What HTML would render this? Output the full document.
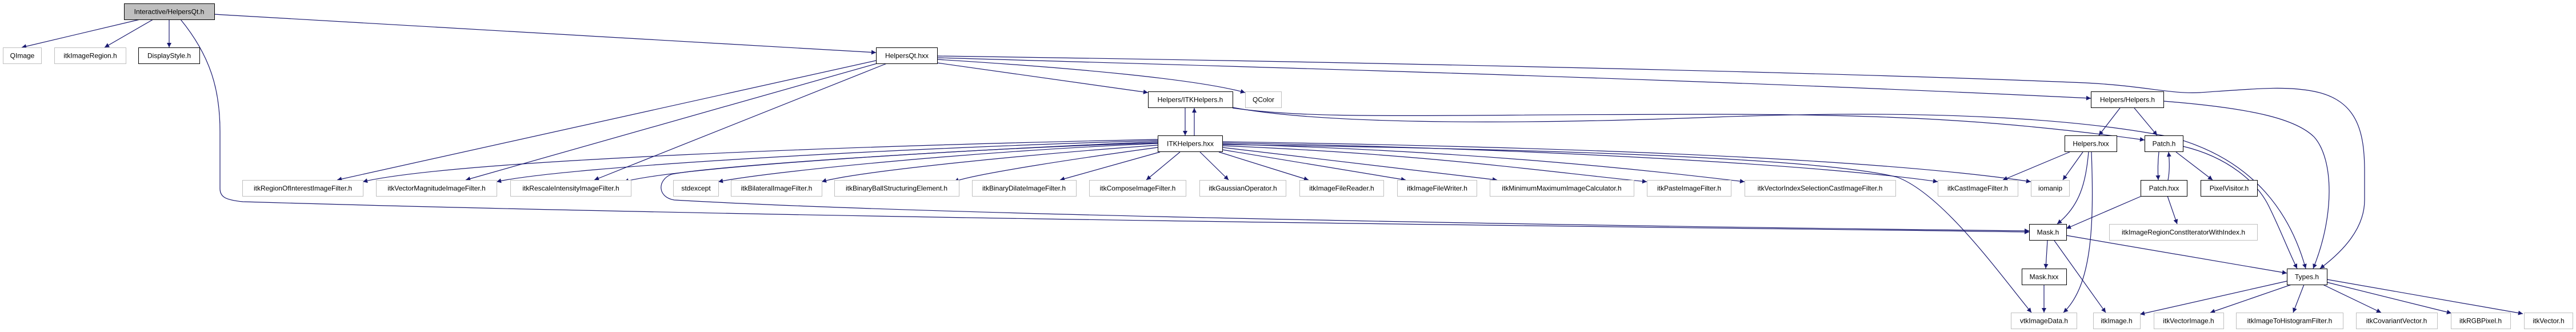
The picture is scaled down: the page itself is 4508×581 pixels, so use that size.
<!DOCTYPE html>
<html><head><meta charset="utf-8"><style>
html,body{margin:0;padding:0;background:#fff;}
svg{display:block;}
text{font-family:"Liberation Sans",sans-serif;font-size:12px;fill:#000;}
.e{fill:none;stroke:#191970;stroke-width:1.2;}
</style></head><body>
<svg width="4508" height="581" viewBox="0 0 4508 581" xmlns="http://www.w3.org/2000/svg">
<defs><marker id="a" viewBox="0 0 10 10" refX="10" refY="5" markerWidth="10" markerHeight="8" markerUnits="userSpaceOnUse" orient="auto"><path d="M0,0L10,5L0,10z" fill="#191970"/></marker></defs>
<g marker-end="url(#a)">
<!-- root -->
<path class="e" d="M245,34L38,83"/>
<path class="e" d="M268,34L183,83"/>
<path class="e" d="M296,34L296,83"/>
<path class="e" d="M375,25L1533,92"/>
<path class="e" d="M316,34C370,100 385,160 385,230L385,330C385,345 395,350 425,353C1500,385 3000,398 3551,406"/>
<!-- HelpersQt.hxx -->
<path class="e" d="M1533,106L590,315"/>
<path class="e" d="M1535,111L815,315"/>
<path class="e" d="M1552,111L1040,315"/>
<path class="e" d="M1640,110L2009,162"/>
<path class="e" d="M1640,104C1900,120 2100,140 2179,162"/>
<path class="e" d="M1640,101C2300,120 3000,140 3659,172"/>
<path class="e" d="M1640,98C2500,110 3300,130 3650,145C3750,150 3800,165 3850,162C3950,155 4000,150 4050,160C4125,175 4138,230 4138,300L4138,350C4138,400 4100,440 4060,470"/>
<!-- ITKHelpers.h -->
<path class="e" d="M2074,189L2074,237"/>
<path class="e" d="M2090,237L2090,189"/>
<path class="e" d="M2157,189C2300,210 2500,200 3000,200C3300,200 3500,210 3753,245"/>
<path class="e" d="M2157,188C2300,215 2600,220 3000,205C3400,190 3650,210 3800,240C3950,280 4010,380 4035,470"/>
<!-- ITKHelpers.hxx to row4 -->
<path class="e" d="M2026,244C1500,255 800,280 635,318"/>
<path class="e" d="M2026,246C1600,258 1000,290 869,318"/>
<path class="e" d="M2026,248C1700,262 1200,290 1092,318"/>
<path class="e" d="M2026,251C1700,265 1350,300 1257,318"/>
<path class="e" d="M2026,254C1800,270 1500,300 1438,318"/>
<path class="e" d="M2026,258C1900,275 1700,305 1670,318"/>
<path class="e" d="M2030,266L1855,315"/>
<path class="e" d="M2065,266L2006,315"/>
<path class="e" d="M2100,266L2150,315"/>
<path class="e" d="M2133,266L2290,315"/>
<path class="e" d="M2139,262L2460,315"/>
<path class="e" d="M2139,258L2620,315"/>
<path class="e" d="M2139,255C2500,270 2700,300 2882,318"/>
<path class="e" d="M2139,252C2600,265 2900,300 3053,318"/>
<path class="e" d="M2139,250C2700,260 3200,290 3391,318"/>
<path class="e" d="M2139,248C2800,258 3300,280 3554,318"/>
<path class="e" d="M2139,253C2800,262 3200,280 3320,310C3400,340 3500,480 3555,547"/>
<path class="e" d="M2026,250C1700,260 1250,290 1175,305C1150,315 1150,345 1180,350C1700,380 3000,398 3551,404"/>
<!-- Helpers/Helpers.h -->
<path class="e" d="M3710,189L3673,237"/>
<path class="e" d="M3735,189L3775,237"/>
<path class="e" d="M3786,177C3950,190 4020,210 4050,240C4085,280 4085,380 4048,470"/>
<!-- Helpers.hxx -->
<path class="e" d="M3622,266L3505,315"/>
<path class="e" d="M3645,266L3610,315"/>
<path class="e" d="M3655,266C3650,320 3640,360 3600,392"/>
<path class="e" d="M3660,266C3665,400 3660,500 3611,547"/>
<!-- Patch.h -->
<path class="e" d="M3778,266C3776,285 3776,300 3777,315"/>
<path class="e" d="M3794,315C3797,300 3797,285 3795,266"/>
<path class="e" d="M3808,266L3872,315"/>
<path class="e" d="M3820,256C3900,275 3950,320 3970,360C3990,400 4005,440 4020,470"/>
<!-- Patch.hxx -->
<path class="e" d="M3748,343L3616,400"/>
<path class="e" d="M3793,343L3810,392"/>
<!-- Mask.h -->
<path class="e" d="M3583,421L3580,470"/>
<path class="e" d="M3616,412L4002,478"/>
<path class="e" d="M3595,421L3685,547"/>
<path class="e" d="M3577,498L3577,547"/>
<!-- Types.h -->
<path class="e" d="M4002,492L3745,550"/>
<path class="e" d="M4010,498L3868,547"/>
<path class="e" d="M4032,498L4013,547"/>
<path class="e" d="M4065,498L4167,547"/>
<path class="e" d="M4072,494L4290,548"/>
<path class="e" d="M4072,489L4415,549"/>
</g>
<g id="nodes">
<rect x="217.5" y="6.5" width="158" height="28" fill="#bfbfbf" stroke="#000"/><text x="296" y="24.5" text-anchor="middle">Interactive/HelpersQt.h</text>
<rect x="5.5" y="83.5" width="67" height="28" fill="#fff" stroke="#bfbfbf"/><text x="39" y="101.5" text-anchor="middle">QImage</text>
<rect x="95.5" y="83.5" width="125" height="28" fill="#fff" stroke="#bfbfbf"/><text x="158" y="101.5" text-anchor="middle">itkImageRegion.h</text>
<rect x="242.5" y="83.5" width="107" height="28" fill="#fff" stroke="#000"/><text x="296" y="101.5" text-anchor="middle">DisplayStyle.h</text>
<rect x="1533.5" y="83.5" width="107" height="28" fill="#fff" stroke="#000"/><text x="1587" y="101.5" text-anchor="middle">HelpersQt.hxx</text>
<rect x="2009.5" y="160.5" width="148" height="28" fill="#fff" stroke="#000"/><text x="2083" y="178.5" text-anchor="middle">Helpers/ITKHelpers.h</text>
<rect x="2179.5" y="160.5" width="63" height="28" fill="#fff" stroke="#bfbfbf"/><text x="2211" y="178.5" text-anchor="middle">QColor</text>
<rect x="3659.5" y="160.5" width="127" height="28" fill="#fff" stroke="#000"/><text x="3723" y="178.5" text-anchor="middle">Helpers/Helpers.h</text>
<rect x="2026.5" y="237.5" width="113" height="28" fill="#fff" stroke="#000"/><text x="2083" y="255.5" text-anchor="middle">ITKHelpers.hxx</text>
<rect x="3613.5" y="237.5" width="91" height="28" fill="#fff" stroke="#000"/><text x="3659" y="255.5" text-anchor="middle">Helpers.hxx</text>
<rect x="3753.5" y="237.5" width="67" height="28" fill="#fff" stroke="#000"/><text x="3787" y="255.5" text-anchor="middle">Patch.h</text>
<g fill="#fff" stroke="#bfbfbf">
<rect x="424.5" y="315.5" width="211" height="28"/><rect x="658.5" y="315.5" width="211" height="28"/><rect x="893.5" y="315.5" width="211" height="28"/>
<rect x="1178.5" y="315.5" width="79" height="28"/><rect x="1279.5" y="315.5" width="159" height="28"/><rect x="1460.5" y="315.5" width="218" height="28"/>
<rect x="1701.5" y="315.5" width="182" height="28"/><rect x="1906.5" y="315.5" width="169" height="28"/><rect x="2099.5" y="315.5" width="151" height="28"/>
<rect x="2274.5" y="315.5" width="147" height="28"/><rect x="2445.5" y="315.5" width="139" height="28"/><rect x="2607.5" y="315.5" width="252" height="28"/>
<rect x="2882.5" y="315.5" width="147" height="28"/><rect x="3053.5" y="315.5" width="264" height="28"/><rect x="3391.5" y="315.5" width="140" height="28"/>
<rect x="3554.5" y="315.5" width="67" height="28"/>
<rect x="3691.5" y="392.5" width="259" height="28"/>
<rect x="3519.5" y="547.5" width="115" height="28"/><rect x="3663.5" y="547.5" width="82" height="28"/><rect x="3769.5" y="547.5" width="122" height="28"/>
<rect x="3913.5" y="547.5" width="187" height="28"/><rect x="4123.5" y="547.5" width="142" height="28"/><rect x="4289.5" y="547.5" width="104" height="28"/><rect x="4417.5" y="547.5" width="85" height="28"/>
</g>
<g fill="#fff" stroke="#000">
<rect x="3746.5" y="315.5" width="81" height="28"/><rect x="3851.5" y="315.5" width="99" height="28"/>
<rect x="3551.5" y="392.5" width="65" height="28"/>
<rect x="3538.5" y="470.5" width="78" height="28"/><rect x="4002.5" y="470.5" width="70" height="28"/>
</g>
<g text-anchor="middle">
<text x="530" y="333.5">itkRegionOfInterestImageFilter.h</text>
<text x="764" y="333.5">itkVectorMagnitudeImageFilter.h</text>
<text x="999" y="333.5">itkRescaleIntensityImageFilter.h</text>
<text x="1218" y="333.5">stdexcept</text>
<text x="1359" y="333.5">itkBilateralImageFilter.h</text>
<text x="1569" y="333.5">itkBinaryBallStructuringElement.h</text>
<text x="1792" y="333.5">itkBinaryDilateImageFilter.h</text>
<text x="1991" y="333.5">itkComposeImageFilter.h</text>
<text x="2175" y="333.5">itkGaussianOperator.h</text>
<text x="2348" y="333.5">itkImageFileReader.h</text>
<text x="2515" y="333.5">itkImageFileWriter.h</text>
<text x="2733" y="333.5">itkMinimumMaximumImageCalculator.h</text>
<text x="2956" y="333.5">itkPasteImageFilter.h</text>
<text x="3185" y="333.5">itkVectorIndexSelectionCastImageFilter.h</text>
<text x="3461" y="333.5">itkCastImageFilter.h</text>
<text x="3588" y="333.5">iomanip</text>
<text x="3787" y="333.5">Patch.hxx</text>
<text x="3901" y="333.5">PixelVisitor.h</text>
<text x="3584" y="410.5">Mask.h</text>
<text x="3821" y="410.5">itkImageRegionConstIteratorWithIndex.h</text>
<text x="3577" y="488.5">Mask.hxx</text>
<text x="4037" y="488.5">Types.h</text>
<text x="3577" y="565.5">vtkImageData.h</text>
<text x="3704" y="565.5">itkImage.h</text>
<text x="3830" y="565.5">itkVectorImage.h</text>
<text x="4007" y="565.5">itkImageToHistogramFilter.h</text>
<text x="4194" y="565.5">itkCovariantVector.h</text>
<text x="4341" y="565.5">itkRGBPixel.h</text>
<text x="4460" y="565.5">itkVector.h</text>
</g>
</g>
</svg>
</body></html>
